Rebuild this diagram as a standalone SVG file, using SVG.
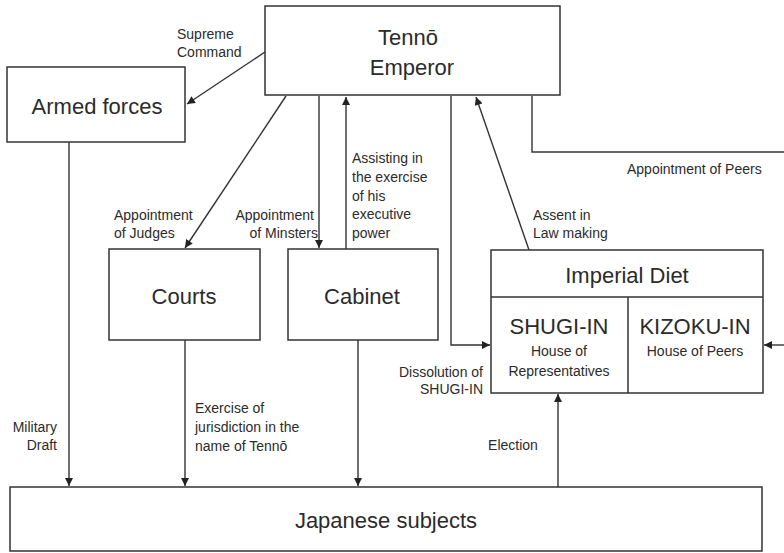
<svg xmlns="http://www.w3.org/2000/svg" width="784" height="553" viewBox="0 0 784 553">
<style>
.box{fill:#fff;stroke:#333;stroke-width:1.5}
.ln{fill:none;stroke:#333;stroke-width:1.4}
.big{font-family:"Liberation Sans",Arial,sans-serif;font-size:22px;fill:#2b2b2b;text-anchor:middle}
.mid{font-family:"Liberation Sans",Arial,sans-serif;font-size:14px;fill:#2b2b2b;text-anchor:middle}
.lbl{font-family:"Liberation Sans",Arial,sans-serif;font-size:14px;fill:#2b2b2b}
.end{text-anchor:end}
</style>
<defs>
<marker id="ah" viewBox="0 0 10 10" refX="10" refY="5" markerWidth="9" markerHeight="8" markerUnits="userSpaceOnUse" orient="auto">
<path d="M0,0 L10,5 L0,10 z" fill="#222"/>
</marker>
</defs>
<rect width="784" height="553" fill="#fff"/>

<g id="connectors">
<line class="ln" x1="265" y1="52" x2="187" y2="104" marker-end="url(#ah)"/>
<line class="ln" x1="286" y1="96" x2="185" y2="248" marker-end="url(#ah)"/>
<line class="ln" x1="319" y1="96" x2="319" y2="248" marker-end="url(#ah)"/>
<line class="ln" x1="346" y1="249" x2="346" y2="97" marker-end="url(#ah)"/>
<polyline class="ln" points="451,96 451,345 490,345" marker-end="url(#ah)"/>
<line class="ln" x1="529" y1="250" x2="476" y2="97" marker-end="url(#ah)"/>
<polyline class="ln" points="532,96 532,152 784,152"/>
<line class="ln" x1="784" y1="345" x2="764" y2="345" marker-end="url(#ah)"/>
<line class="ln" x1="69" y1="142" x2="69" y2="486" marker-end="url(#ah)"/>
<line class="ln" x1="185" y1="340" x2="185" y2="486" marker-end="url(#ah)"/>
<line class="ln" x1="358" y1="340" x2="358" y2="486" marker-end="url(#ah)"/>
<line class="ln" x1="558" y1="487" x2="558" y2="394" marker-end="url(#ah)"/>

<text class="lbl" x="177" y="39">Supreme</text>
<text class="lbl" x="177" y="57">Command</text>
<text class="lbl" x="114" y="220">Appointment</text>
<text class="lbl" x="114" y="238">of Judges</text>
<text class="lbl end" x="314" y="220">Appointment</text>
<text class="lbl end" x="318" y="238">of Minsters</text>
<text class="lbl" x="352" y="163">Assisting in</text>
<text class="lbl" x="352" y="182">the exercise</text>
<text class="lbl" x="352" y="201">of his</text>
<text class="lbl" x="352" y="219">executive</text>
<text class="lbl" x="352" y="238">power</text>
<text class="lbl" x="533" y="220">Assent in</text>
<text class="lbl" x="533" y="238">Law making</text>
<text class="lbl" x="627" y="174">Appointment of Peers</text>
<text class="lbl end" x="483" y="377">Dissolution of</text>
<text class="lbl end" x="483" y="394">SHUGI-IN</text>
<text class="lbl end" x="57" y="432">Military</text>
<text class="lbl end" x="57" y="450">Draft</text>
<text class="lbl" x="195" y="413">Exercise of</text>
<text class="lbl" x="195" y="432">jurisdiction in the</text>
<text class="lbl" x="195" y="451">name of Tennō</text>
<text class="lbl" x="513" y="450" text-anchor="middle">Election</text>
</g>

<g id="emperor">
<rect class="box" x="265" y="6" width="295" height="89"/>
<text class="big" x="408" y="45">Tennō</text>
<text class="big" x="412" y="75">Emperor</text>
</g>

<g id="armed-forces">
<rect class="box" x="7" y="67" width="178" height="75"/>
<text class="big" x="97" y="114">Armed forces</text>
</g>

<g id="courts">
<rect class="box" x="109" y="249" width="151" height="91"/>
<text class="big" x="184" y="304">Courts</text>
</g>

<g id="cabinet">
<rect class="box" x="288" y="249" width="150" height="91"/>
<text class="big" x="362" y="304">Cabinet</text>
</g>

<g id="imperial-diet">
<rect class="box" x="491" y="250" width="272" height="143"/>
<line class="box" x1="491" y1="297" x2="763" y2="297"/>
<line class="box" x1="628" y1="297" x2="628" y2="393"/>
<text class="big" x="627" y="283">Imperial Diet</text>
</g>

<g id="shugi-in">
<text class="big" x="559" y="334">SHUGI-IN</text>
<text class="mid" x="559" y="356">House of</text>
<text class="mid" x="559" y="376">Representatives</text>
</g>

<g id="kizoku-in">
<text class="big" x="695" y="334">KIZOKU-IN</text>
<text class="mid" x="695" y="356">House of Peers</text>
</g>

<g id="japanese-subjects">
<rect class="box" x="10" y="487" width="752" height="64"/>
<text class="big" x="386" y="528">Japanese subjects</text>
</g>
</svg>
